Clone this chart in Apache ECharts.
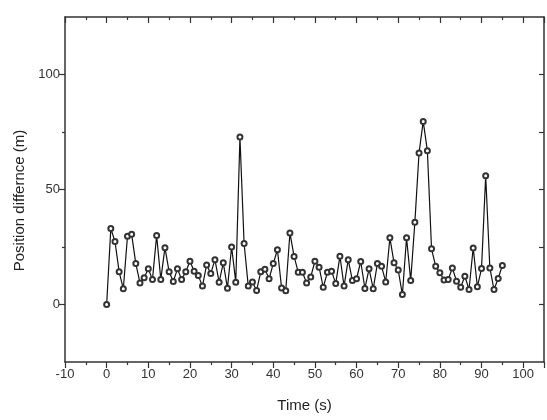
<!DOCTYPE html>
<html>
<head>
<meta charset="utf-8" />
<title>Position difference</title>
<script src="https://cdn.jsdelivr.net/npm/echarts@6/dist/echarts.min.js"></script>
</head>
<body style="margin:0">
<div id="main" style="width:547px;height:420px;"></div>
<script type="text/javascript">
// time in seconds, one sample per second
var times = [];
for (var i = 0; i <= 95; i++) times.push(i);

// position difference (m)
var posDiff = [
  0, 33, 27.4, 14.2, 6.8, 29.7, 30.5, 17.8, 9.4, 11.6,
  15.5, 10.9, 30, 10.9, 24.7, 14.2, 10, 15.5, 10.9, 14.2,
  18.8, 14.5, 12.6, 8, 17.2, 13.5, 19.5, 9.7, 18.1, 7.1,
  25, 9.7, 72.8, 26.5, 8, 9.8, 6.1, 14.2, 15.3, 11.2,
  17.8, 23.8, 7.2, 6, 31.1, 20.9, 14, 14, 9.4, 12,
  18.8, 16.2, 7.5, 14, 14.5, 9.1, 21, 8, 19.5, 10.4,
  11.2, 18.7, 7, 15.5, 6.8, 17.8, 16.6, 9.8, 29, 18.1,
  15, 4.3, 29, 10.4, 35.8, 65.9, 79.6, 66.9, 24.2, 16.6,
  13.8, 10.6, 10.9, 15.9, 10.1, 7.5, 12.3, 6.5, 24.6, 7.7,
  15.6, 56, 15.9, 6.5, 11.3, 17
];

var yMajor = [0, 50, 100];
var yMinor = [25, 75];

var axisColor = '#333';
var font = 'Liberation Sans, Arial, sans-serif';

var myChart = echarts.init(document.getElementById('main'));

var points = times.map(function (t, i) { return [t, posDiff[i]]; });

var option = {
  animation: false,
  backgroundColor: '#fff',
  grid: { left: 65, right: 3, top: 17, bottom: 58 },
  xAxis: [
    {
      type: 'value', position: 'bottom', min: -10, max: 105, interval: 10,
      name: 'Time (s)', nameLocation: 'middle', nameGap: 36,
      nameTextStyle: { fontSize: 15, color: '#222', fontFamily: font },
      axisLine: { show: true, onZero: false, lineStyle: { color: axisColor, width: 1.5 } },
      axisTick: { show: true, inside: false, length: 6, lineStyle: { color: axisColor, width: 1.2 } },
      minorTick: { show: true, splitNumber: 2, length: 3, lineStyle: { color: axisColor, width: 1.2 } },
      axisLabel: { showMaxLabel: false, fontSize: 13, color: '#333', fontFamily: font, margin: 6 },
      splitLine: { show: false }
    },
    {
      type: 'value', position: 'top', min: -10, max: 105, interval: 10,
      axisLine: { show: true, onZero: false, lineStyle: { color: axisColor, width: 1.5 } },
      axisTick: { show: true, inside: true, length: 6, lineStyle: { color: axisColor, width: 1.2 } },
      minorTick: { show: true, splitNumber: 2, length: 3, lineStyle: { color: axisColor, width: 1.2 } },
      axisLabel: { show: false },
      splitLine: { show: false }
    }
  ],
  yAxis: [
    {
      type: 'value', position: 'left', min: -25, max: 125,
      name: 'Position differnce (m)', nameLocation: 'middle', nameGap: 37, nameRotate: 90,
      nameTextStyle: { fontSize: 15, color: '#222', fontFamily: font, padding: [0, 22, 0, 0] },
      axisLine: { show: true, onZero: false, lineStyle: { color: axisColor, width: 1.5 } },
      axisTick: { show: true, inside: false, length: 6, customValues: yMajor, lineStyle: { color: axisColor, width: 1.2 } },
      axisLabel: { customValues: yMajor, fontSize: 13, color: '#333', fontFamily: font, margin: 5 },
      splitLine: { show: false }
    },
    {
      type: 'value', position: 'left', min: -25, max: 125,
      axisLine: { show: false, onZero: false },
      axisTick: { show: true, inside: false, length: 3, customValues: yMinor, lineStyle: { color: axisColor, width: 1.2 } },
      axisLabel: { show: false },
      splitLine: { show: false }
    },
    {
      type: 'value', position: 'right', min: -25, max: 125,
      axisLine: { show: true, onZero: false, lineStyle: { color: axisColor, width: 1.5 } },
      axisTick: { show: true, inside: true, length: 5, customValues: yMajor.concat(yMinor), lineStyle: { color: axisColor, width: 1.2 } },
      axisLabel: { show: false },
      splitLine: { show: false }
    }
  ],
  series: [
    {
      type: 'line',
      data: points,
      symbol: 'emptyCircle',
      symbolSize: 5,
      lineStyle: { color: '#111', width: 1.2 },
      itemStyle: { color: '#333', borderColor: '#333', borderWidth: 0.9 }
    }
  ]
};

myChart.setOption(option);
</script>
</body>
</html>
